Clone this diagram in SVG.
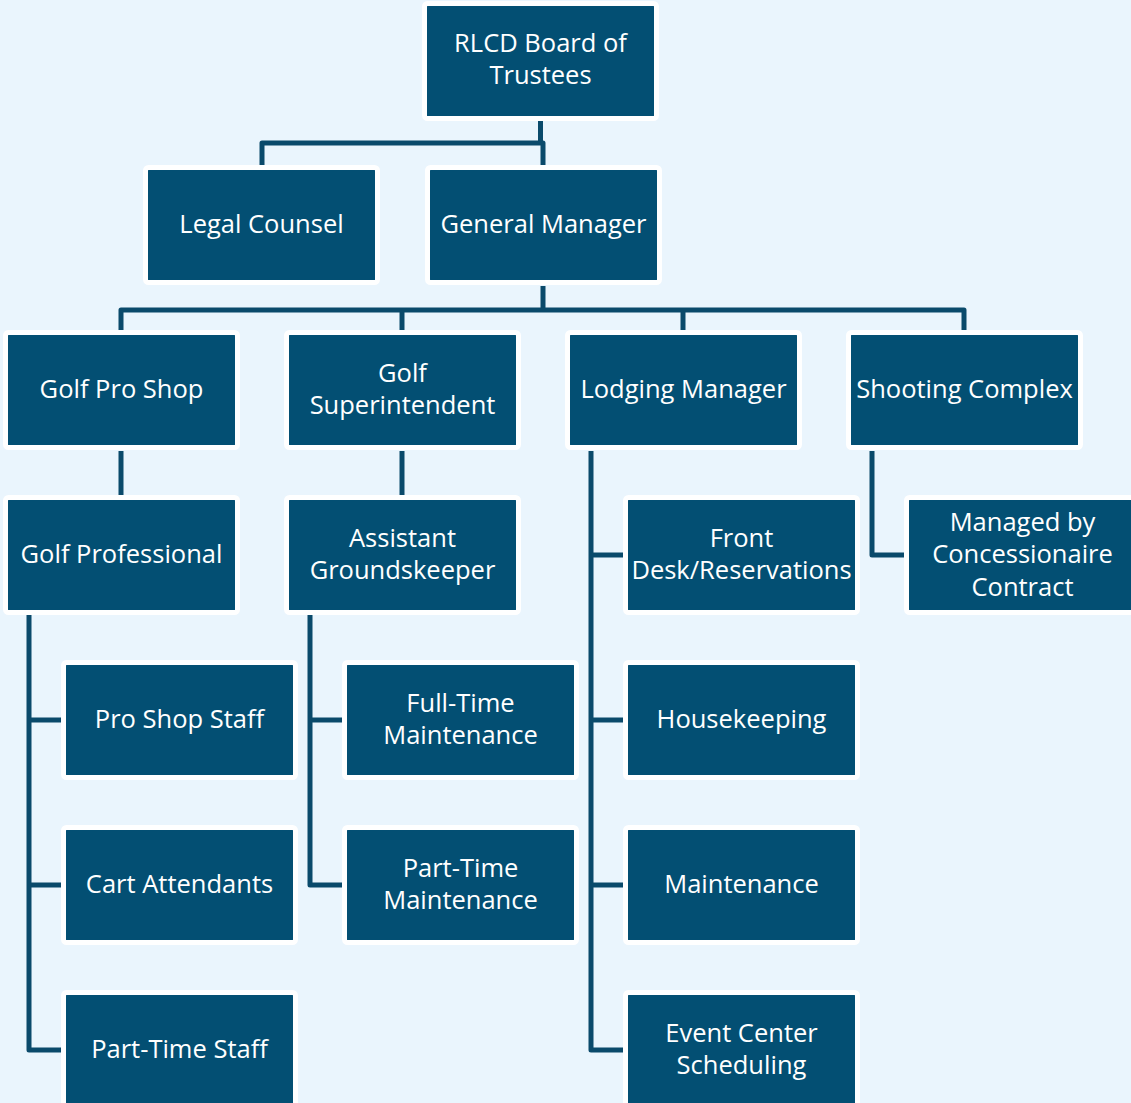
<svg xmlns="http://www.w3.org/2000/svg" width="1131" height="1103" viewBox="0 0 1131 1103">
<style>
.bg{fill:#EAF5FD}
.box{fill:#034F73;stroke:#FFFFFF;stroke-width:5}
.t{font-family:"Open Sans","Liberation Sans",sans-serif;font-size:25.5px;fill:#FFFFFF;text-anchor:middle}
.c{fill:none;stroke:#0A4A6B;stroke-width:5;stroke-linejoin:round}
</style>
<rect class="bg" x="0" y="0" width="1131" height="1103"/>
<g id="connectors">
<path class="c" d="M540.5 121 V143"/>
<path class="c" d="M262 165 V143 H543 V165"/>
<path class="c" d="M543 286 V310"/>
<path class="c" d="M121 330 V310 H964 V330"/>
<path class="c" d="M402 310 V330"/>
<path class="c" d="M683 310 V330"/>
<path class="c" d="M121 451 V495"/>
<path class="c" d="M402 451 V495"/>
<path class="c" d="M29 615 V1050 H62"/>
<path class="c" d="M29 720 H62"/>
<path class="c" d="M29 885 H62"/>
<path class="c" d="M310 615 V885 H342"/>
<path class="c" d="M310 720 H342"/>
<path class="c" d="M591 451 V1050 H623"/>
<path class="c" d="M591 555 H623"/>
<path class="c" d="M591 720 H623"/>
<path class="c" d="M591 885 H623"/>
<path class="c" d="M872 451 V555 H904"/>
</g>
<g id="board"><rect class="box" x="424.5" y="3.5" width="232" height="115" rx="3"/><text class="t" x="540.5" y="52">RLCD Board of</text><text class="t" x="540.5" y="84">Trustees</text></g>
<g id="legal"><rect class="box" x="145.5" y="167.5" width="232" height="115" rx="3"/><text class="t" x="261.5" y="233">Legal Counsel</text></g>
<g id="gm"><rect class="box" x="427.5" y="167.5" width="232" height="115" rx="3"/><text class="t" x="543.5" y="233">General Manager</text></g>
<g id="golfproshop"><rect class="box" x="5.5" y="332.5" width="232" height="115" rx="3"/><text class="t" x="121.5" y="398">Golf Pro Shop</text></g>
<g id="golfsup"><rect class="box" x="286.5" y="332.5" width="232" height="115" rx="3"/><text class="t" x="402.5" y="382">Golf</text><text class="t" x="402.5" y="414">Superintendent</text></g>
<g id="lodging"><rect class="box" x="567.5" y="332.5" width="232" height="115" rx="3"/><text class="t" x="683.5" y="398">Lodging Manager</text></g>
<g id="shooting"><rect class="box" x="848.5" y="332.5" width="232" height="115" rx="3"/><text class="t" x="964.5" y="398">Shooting Complex</text></g>
<g id="golfprof"><rect class="box" x="5.5" y="497.5" width="232" height="115" rx="3"/><text class="t" x="121.5" y="563">Golf Professional</text></g>
<g id="asstground"><rect class="box" x="286.5" y="497.5" width="232" height="115" rx="3"/><text class="t" x="402.5" y="547">Assistant</text><text class="t" x="402.5" y="579">Groundskeeper</text></g>
<g id="frontdesk"><rect class="box" x="625.5" y="497.5" width="232" height="115" rx="3"/><text class="t" x="741.5" y="547">Front</text><text class="t" x="741.5" y="579">Desk/Reservations</text></g>
<g id="managed"><rect class="box" x="906.5" y="497.5" width="232" height="115" rx="3"/><text class="t" x="1022.5" y="531">Managed by</text><text class="t" x="1022.5" y="563">Concessionaire</text><text class="t" x="1022.5" y="596">Contract</text></g>
<g id="proshopstaff"><rect class="box" x="63.5" y="662.5" width="232" height="115" rx="3"/><text class="t" x="179.5" y="728">Pro Shop Staff</text></g>
<g id="fulltime"><rect class="box" x="344.5" y="662.5" width="232" height="115" rx="3"/><text class="t" x="460.5" y="712">Full-Time</text><text class="t" x="460.5" y="744">Maintenance</text></g>
<g id="housekeeping"><rect class="box" x="625.5" y="662.5" width="232" height="115" rx="3"/><text class="t" x="741.5" y="728">Housekeeping</text></g>
<g id="cart"><rect class="box" x="63.5" y="827.5" width="232" height="115" rx="3"/><text class="t" x="179.5" y="893">Cart Attendants</text></g>
<g id="parttimemaint"><rect class="box" x="344.5" y="827.5" width="232" height="115" rx="3"/><text class="t" x="460.5" y="877">Part-Time</text><text class="t" x="460.5" y="909">Maintenance</text></g>
<g id="maintenance"><rect class="box" x="625.5" y="827.5" width="232" height="115" rx="3"/><text class="t" x="741.5" y="893">Maintenance</text></g>
<g id="parttimestaff"><rect class="box" x="63.5" y="992.5" width="232" height="115" rx="3"/><text class="t" x="179.5" y="1058">Part-Time Staff</text></g>
<g id="eventcenter"><rect class="box" x="625.5" y="992.5" width="232" height="115" rx="3"/><text class="t" x="741.5" y="1042">Event Center</text><text class="t" x="741.5" y="1074">Scheduling</text></g>
</svg>
